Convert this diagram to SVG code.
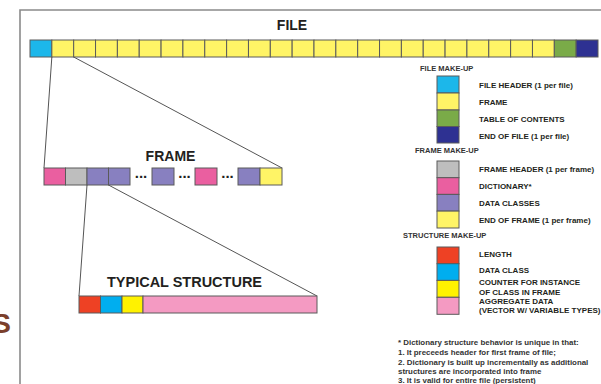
<svg xmlns="http://www.w3.org/2000/svg" width="601" height="384" viewBox="0 0 601 384">
<style>
.c{stroke:#5a5a5a;stroke-width:1}
.cy{fill:#1cb7ea}.ye{fill:#fff466}.gr{fill:#7aab48}.nv{fill:#2e3192}
.gy{fill:#bebebe}.pk{fill:#ea5fa0}.pu{fill:#8880c0}
.rd{fill:#ee4124}.cy2{fill:#00aeef}.ye2{fill:#fff200}.pk2{fill:#f49ac2}
.t{font-family:"Liberation Sans",Arial,sans-serif;font-weight:bold;fill:#231f20}
.lg{font-family:"Liberation Sans",Arial,sans-serif;font-weight:bold;font-size:8px;fill:#231f20}
.hd{font-family:"Liberation Sans",Arial,sans-serif;font-weight:bold;font-size:7.5px;fill:#333}
.fn{font-family:"Liberation Sans",Arial,sans-serif;font-weight:bold;font-size:7.9px;fill:#333}
.ln{stroke:#555;stroke-width:1;fill:none}
</style>
<rect width="601" height="384" fill="#fff"/>
<text x="11" y="333" text-anchor="end" style="font-family:'Liberation Sans',Arial,sans-serif;font-size:28px;font-weight:bold;fill:#7b3f2c">S</text>
<path d="M20,384 V10 H601" fill="none" stroke="#8a8a8a" stroke-width="1.6"/>

<g id="file-title"><text class="t" x="292" y="30" text-anchor="middle" font-size="14">FILE</text></g>
<g id="file-bar" class="c">
<rect class="cy" x="30" y="40" width="21.85" height="17"/>
<rect class="ye" x="51.85" y="40" width="21.85" height="17"/>
<rect class="ye" x="73.69" y="40" width="21.85" height="17"/>
<rect class="ye" x="95.54" y="40" width="21.85" height="17"/>
<rect class="ye" x="117.38" y="40" width="21.85" height="17"/>
<rect class="ye" x="139.23" y="40" width="21.85" height="17"/>
<rect class="ye" x="161.08" y="40" width="21.85" height="17"/>
<rect class="ye" x="182.92" y="40" width="21.85" height="17"/>
<rect class="ye" x="204.77" y="40" width="21.85" height="17"/>
<rect class="ye" x="226.62" y="40" width="21.85" height="17"/>
<rect class="ye" x="248.46" y="40" width="21.85" height="17"/>
<rect class="ye" x="270.31" y="40" width="21.85" height="17"/>
<rect class="ye" x="292.15" y="40" width="21.85" height="17"/>
<rect class="ye" x="314" y="40" width="21.85" height="17"/>
<rect class="ye" x="335.85" y="40" width="21.85" height="17"/>
<rect class="ye" x="357.69" y="40" width="21.85" height="17"/>
<rect class="ye" x="379.54" y="40" width="21.85" height="17"/>
<rect class="ye" x="401.38" y="40" width="21.85" height="17"/>
<rect class="ye" x="423.23" y="40" width="21.85" height="17"/>
<rect class="ye" x="445.08" y="40" width="21.85" height="17"/>
<rect class="ye" x="466.92" y="40" width="21.85" height="17"/>
<rect class="ye" x="488.77" y="40" width="21.85" height="17"/>
<rect class="ye" x="510.62" y="40" width="21.85" height="17"/>
<rect class="ye" x="532.46" y="40" width="21.85" height="17"/>
<rect class="gr" x="554.31" y="40" width="21.85" height="17"/>
<rect class="nv" x="576.15" y="40" width="21.85" height="17"/>
</g>

<g id="connectors">
<line class="ln" x1="51.85" y1="57" x2="44" y2="168"/>
<line class="ln" x1="73.69" y1="57" x2="282" y2="168"/>
<line class="ln" x1="87" y1="185" x2="79" y2="296"/>
<line class="ln" x1="108.5" y1="185" x2="317" y2="296"/>
</g>

<g id="frame-title"><text class="t" x="170.5" y="161" text-anchor="middle" font-size="14">FRAME</text></g>
<g id="frame-bar">
<g class="c">
<rect class="pk" x="44" y="168" width="21.5" height="17"/>
<rect class="gy" x="65.5" y="168" width="21.5" height="17"/>
<rect class="pu" x="87" y="168" width="21.5" height="17"/>
<rect class="pu" x="108.5" y="168" width="21.5" height="17"/>
<rect class="pu" x="152" y="168" width="22" height="17"/>
<rect class="pk" x="195" y="168" width="22" height="17"/>
<rect class="pu" x="238" y="168" width="22" height="17"/>
<rect class="ye" x="260" y="168" width="22" height="17"/>
</g>
<text class="t" font-size="15" x="141" y="178" text-anchor="middle">...</text>
<text class="t" font-size="15" x="184.5" y="178" text-anchor="middle">...</text>
<text class="t" font-size="15" x="227.5" y="178" text-anchor="middle">...</text>
</g>

<g id="structure-title"><text class="t" x="107" y="287" font-size="15" textLength="155" lengthAdjust="spacingAndGlyphs">TYPICAL STRUCTURE</text></g>
<g id="structure-bar" class="c">
<rect class="rd" x="79" y="296" width="21.5" height="17"/>
<rect class="cy2" x="100.5" y="296" width="21.5" height="17"/>
<rect class="ye2" x="122" y="296" width="21" height="17"/>
<rect class="pk2" x="143" y="296" width="174" height="17"/>
</g>

<g id="legend-file">
<text class="hd" x="420" y="71">FILE MAKE-UP</text>
<g class="c">
<rect class="cy" x="437" y="76" width="22" height="17"/>
<rect class="ye" x="437" y="93" width="22" height="17"/>
<rect class="gr" x="437" y="110" width="22" height="16.5"/>
<rect class="nv" x="437" y="126.5" width="22" height="16.5"/>
</g>
<text class="lg" x="479" y="88">FILE HEADER (1 per file)</text>
<text class="lg" x="479" y="105">FRAME</text>
<text class="lg" x="479" y="122">TABLE OF CONTENTS</text>
<text class="lg" x="479" y="139">END OF FILE (1 per file)</text>
</g>

<g id="legend-frame">
<text class="hd" x="415" y="153">FRAME MAKE-UP</text>
<g class="c">
<rect class="gy" x="437" y="161" width="22" height="16.7"/>
<rect class="pk" x="437" y="177.7" width="22" height="16.7"/>
<rect class="pu" x="437" y="194.4" width="22" height="16.7"/>
<rect class="ye" x="437" y="211.1" width="22" height="16.9"/>
</g>
<text class="lg" x="479" y="172">FRAME HEADER (1 per frame)</text>
<text class="lg" x="479" y="189">DICTIONARY*</text>
<text class="lg" x="479" y="206">DATA CLASSES</text>
<text class="lg" x="479" y="223">END OF FRAME (1 per frame)</text>
</g>

<g id="legend-structure">
<text class="hd" x="403" y="238">STRUCTURE MAKE-UP</text>
<g class="c">
<rect class="rd" x="437" y="247" width="22" height="16.7"/>
<rect class="cy2" x="437" y="263.7" width="22" height="16.7"/>
<rect class="ye2" x="437" y="280.4" width="22" height="16.9"/>
<rect class="pk2" x="437" y="297.3" width="22" height="17"/>
</g>
<text class="lg" x="479" y="257">LENGTH</text>
<text class="lg" x="479" y="273">DATA CLASS</text>
<text class="lg" x="479" y="285">COUNTER FOR INSTANCE</text>
<text class="lg" x="479" y="295">OF CLASS IN FRAME</text>
<text class="lg" x="479" y="304">AGGREGATE DATA</text>
<text class="lg" x="479" y="313">(VECTOR W/ VARIABLE TYPES)</text>
</g>

<g id="footnote">
<text class="fn" x="398" y="345">* Dictionary structure behavior is unique in that:</text>
<text class="fn" x="398" y="355">1. It preceeds header for first frame of file;</text>
<text class="fn" x="398" y="365">2. Dictionary is built up incrementally as additional</text>
<text class="fn" x="398" y="374">structures are incorporated into frame</text>
<text class="fn" x="398" y="383">3. It is valid for entire file (persistent)</text>
</g>
</svg>
